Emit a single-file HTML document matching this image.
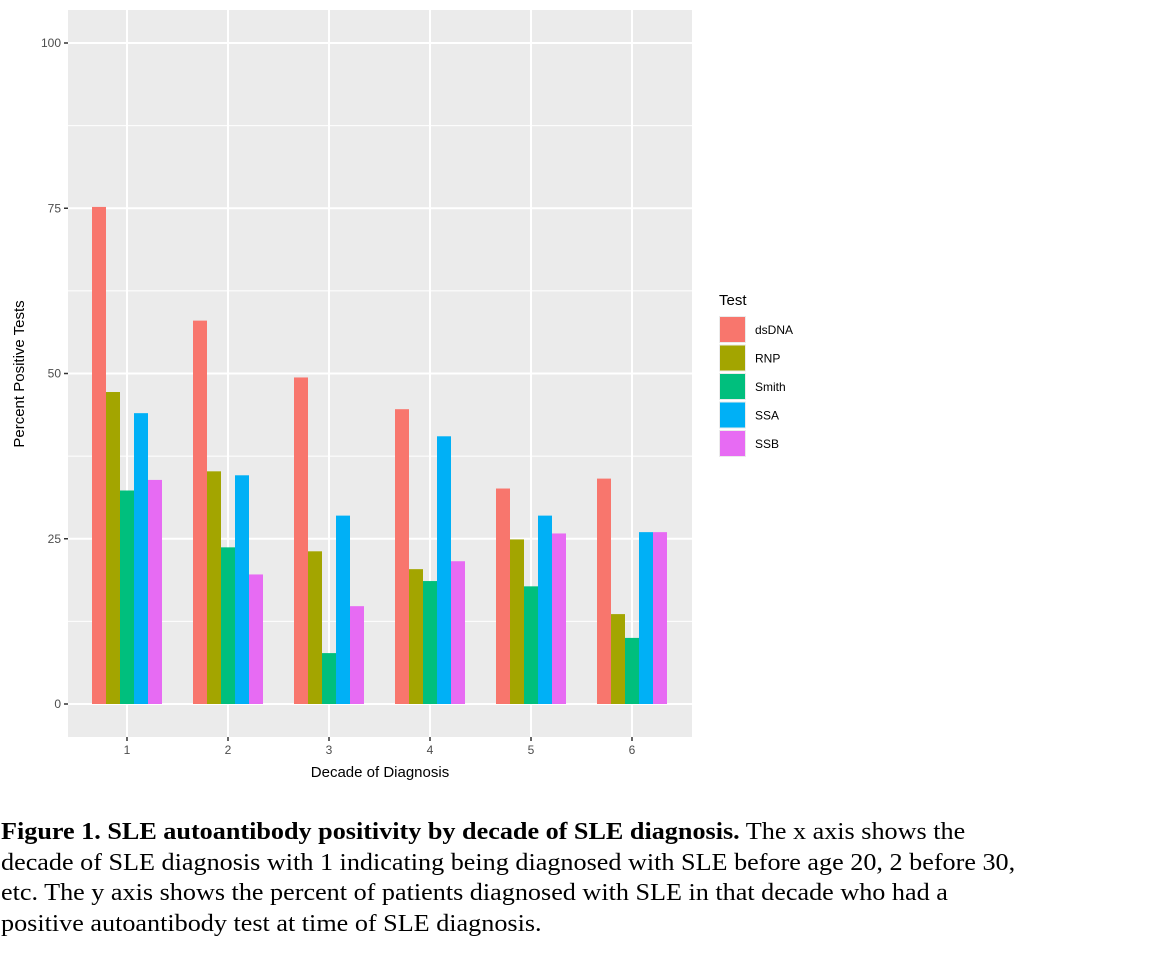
<!DOCTYPE html>
<html><head><meta charset="utf-8"><style>
body{margin:0;background:#fff;width:1152px;height:957px;overflow:hidden}
svg text{font-family:"Liberation Sans",sans-serif}
.cap{position:absolute;left:1px;top:817px;white-space:nowrap;font-family:"Liberation Serif",serif;font-size:24px;line-height:30.7px;color:#000;transform:scaleX(1.09);transform-origin:0 0}
</style></head><body>
<svg id="chart" width="1152" height="800" style="position:absolute;left:0;top:0"></svg>
<div class="cap"><b>Figure 1. SLE autoantibody positivity by decade of SLE diagnosis.</b> The x axis shows the<br>decade of SLE diagnosis with 1 indicating being diagnosed with SLE before age 20, 2 before 30,<br>etc. The y axis shows the percent of patients diagnosed with SLE in that decade who had a<br>positive autoantibody test at time of SLE diagnosis.</div>
<script>
const categories=["1","2","3","4","5","6"];
const seriesNames=["dsDNA","RNP","Smith","SSA","SSB"];
const dsDNA=[75.2,58,49.4,44.6,32.6,34.1];
const RNP=[47.2,35.2,23.1,20.4,24.9,13.6];
const Smith=[32.3,23.7,7.7,18.6,17.8,10];
const SSA=[44,34.6,28.5,40.5,28.5,26];
const SSB=[33.9,19.6,14.8,21.6,25.8,26];
const yTicks=[0,25,50,75,100];
const colors=["#F8766D","#A3A500","#00BF7D","#00B0F6","#E76BF3"];
const series=[dsDNA,RNP,Smith,SSA,SSB];
const NS="http://www.w3.org/2000/svg";
const svg=document.getElementById('chart');
function mk(t,a,p){const e=document.createElementNS(NS,t);for(const k in a)e.setAttribute(k,a[k]);(p||svg).appendChild(e);return e;}
const PL=68,PR=692,PT=10,PB=737;
const y=v=>704-v*6.61;
const x=i=>127+i*101;
const panel=mk('rect',{x:PL,y:PT,width:PR-PL,height:PB-PT,fill:'#EBEBEB'});


for(let i=0;i<yTicks.length-1;i++){const v=(yTicks[i]+yTicks[i+1])/2;mk('line',{x1:PL,x2:PR,y1:y(v),y2:y(v),stroke:'#fff','stroke-width':1});}
yTicks.forEach(v=>{
 const l=mk('line',{x1:PL,x2:PR,y1:y(v),y2:y(v),stroke:'#fff','stroke-width':2});
 
 
 mk('line',{x1:PL-4,x2:PL,y1:y(v),y2:y(v),stroke:'#333','stroke-width':1.5});
 const t=mk('text',{x:PL-7,y:y(v)+4,'text-anchor':'end','font-size':12,fill:'#4d4d4d'});t.textContent=v;
 
 
});
categories.forEach((c,i)=>{
 mk('line',{x1:x(i),x2:x(i),y1:PT,y2:PB,stroke:'#fff','stroke-width':2});
 mk('line',{x1:x(i),x2:x(i),y1:PB,y2:PB+4,stroke:'#333','stroke-width':1.5});
 const t=mk('text',{x:x(i),y:PB+17,'text-anchor':'middle','font-size':12,fill:'#4d4d4d'});t.textContent=c;
 
 
});
const bw=14;
series.forEach((s,j)=>{
 s.forEach((v,i)=>{
  const bx=x(i)-2.5*bw+j*bw;
  const r=mk('rect',{x:bx,y:y(v),width:bw,height:y(0)-y(v),fill:colors[j]});
  
  
 });
});
let t=mk('text',{x:380,y:777,'text-anchor':'middle','font-size':15,fill:'#000'});t.textContent='Decade of Diagnosis';


t=mk('text',{x:0,y:0,'text-anchor':'middle','font-size':15,fill:'#000',transform:'translate(24,374) rotate(-90)'});t.textContent='Percent Positive Tests';


t=mk('text',{x:719,y:305,'font-size':15,fill:'#000'});t.textContent='Test';


seriesNames.forEach((n,j)=>{
 const g=mk('g',{});
 
 
 mk('rect',{x:719,y:316+j*28.5,width:27,height:27,fill:'#EBEBEB'},g);
 mk('rect',{x:720,y:317+j*28.5,width:25,height:25,fill:colors[j]},g);
 const tt=mk('text',{x:755,y:334+j*28.5,'font-size':12,fill:'#000'},g);tt.textContent=n;
});
</script>
</body></html>
